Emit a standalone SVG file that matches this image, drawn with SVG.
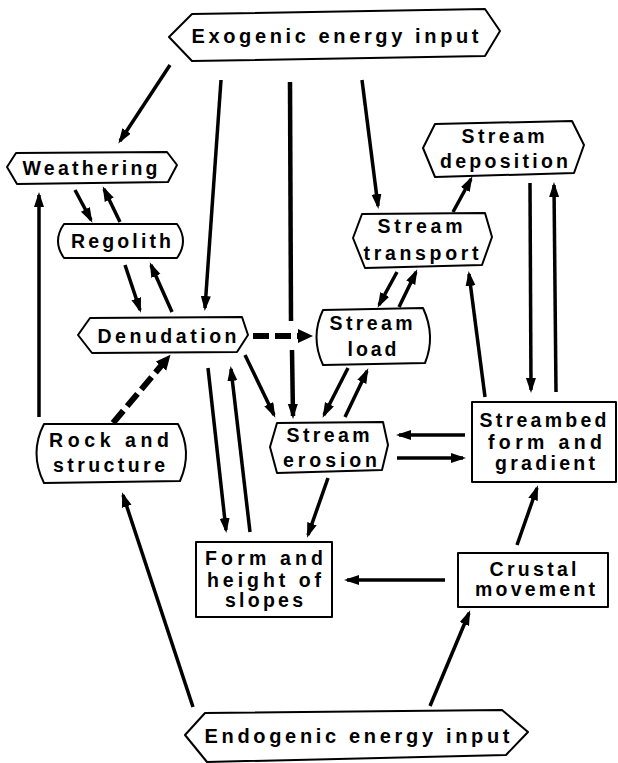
<svg xmlns="http://www.w3.org/2000/svg" width="618" height="763" viewBox="0 0 618 763">
<style>
.n{fill:#fff;stroke:#000;stroke-width:2;stroke-linejoin:round}
.t{font-family:"Liberation Sans",Arial,sans-serif;font-weight:bold;font-size:19.5px;text-anchor:middle;fill:#000}
.big{font-size:20px}
.c line{stroke:#000;stroke-width:3.5;fill:none;marker-end:url(#ah)}
.c line.plain{marker-end:none}
.c line.thick{stroke-width:4.5}
.c line.dash{stroke-width:6;stroke-dasharray:16 6;marker-end:url(#ahd)}
</style>
<defs>
<marker id="ah" markerUnits="userSpaceOnUse" markerWidth="16" markerHeight="12" refX="12" refY="5" orient="auto"><path d="M0,0 L15,5 L0,10 z" fill="#000"/></marker>
<marker id="ahd" markerUnits="userSpaceOnUse" markerWidth="16" markerHeight="16" refX="8" refY="7" orient="auto"><path d="M0,0 L15,7 L0,14 z" fill="#000"/></marker>
</defs>
<rect width="618" height="763" fill="#fff"/>

<g class="c" id="connectors">
<line x1="170" y1="65" x2="120" y2="141"/>
<line x1="221" y1="80" x2="205" y2="308"/>
<line class="plain thick" x1="290" y1="82" x2="291" y2="321"/>
<line class="thick" x1="292" y1="350" x2="293" y2="416"/>
<line x1="362" y1="80" x2="378" y2="206"/>
<line x1="453" y1="212" x2="471" y2="179"/>
<line x1="530" y1="183" x2="531" y2="390"/>
<line x1="556" y1="392" x2="554" y2="185"/>
<line x1="75" y1="190" x2="91" y2="220"/>
<line x1="120" y1="222" x2="104" y2="189"/>
<line x1="39" y1="417" x2="39" y2="195"/>
<line x1="125" y1="265" x2="140" y2="310"/>
<line x1="172" y1="312" x2="151" y2="265"/>
<line class="dash" x1="253" y1="336" x2="306" y2="336"/>
<line x1="397" y1="272" x2="379" y2="305"/>
<line x1="399" y1="307" x2="416" y2="272"/>
<line x1="485" y1="397" x2="469" y2="274"/>
<line class="dash" x1="113" y1="423" x2="166" y2="360"/>
<line x1="208" y1="368" x2="226" y2="530"/>
<line x1="250" y1="532" x2="231" y2="369"/>
<line x1="245" y1="355" x2="274" y2="415"/>
<line x1="348" y1="368" x2="324" y2="415"/>
<line x1="345" y1="417" x2="367" y2="371"/>
<line x1="465" y1="435" x2="399" y2="435"/>
<line x1="397" y1="458" x2="463" y2="458"/>
<line x1="328" y1="478" x2="308" y2="535"/>
<line x1="445" y1="580" x2="347" y2="580"/>
<line x1="517" y1="545" x2="537" y2="488"/>
<line x1="193" y1="707" x2="123" y2="495"/>
<line x1="430" y1="706" x2="469" y2="613"/>
</g>

<g id="exogenic">
<polygon class="n" points="169,37 192,14 485,9 500,31 485,56 192,61"/>
<text class="t big" x="335" y="43" textLength="287" lengthAdjust="spacing">Exogenic energy input</text>
</g>
<g id="weathering">
<polygon class="n" points="7,167 16,153 167,152 177,165 168,182 17,184"/>
<text class="t" x="90" y="175" textLength="135" lengthAdjust="spacing">Weathering</text>
</g>
<g id="regolith">
<path class="n" d="M64,224 L177,224 Q189,241 177,258 L64,258 Q52,241 64,224 Z"/>
<text class="t" x="121" y="248" textLength="100" lengthAdjust="spacing">Regolith</text>
</g>
<g id="denudation">
<polygon class="n" points="78,335 90,318 242,317 248,335 237,352 92,353"/>
<text class="t" x="167" y="343" textLength="139" lengthAdjust="spacing">Denudation</text>
</g>
<g id="stream-deposition">
<polygon class="n" points="423,148 435,124 572,121 584,145 574,173 435,177"/>
<text class="t" x="503" y="143" textLength="83" lengthAdjust="spacing">Stream</text>
<text class="t" x="504" y="168" textLength="128" lengthAdjust="spacing">deposition</text>
</g>
<g id="stream-transport">
<polygon class="n" points="353,238 362,214 485,213 492,237 482,265 365,268"/>
<text class="t" x="420" y="233" textLength="85" lengthAdjust="spacing">Stream</text>
<text class="t" x="421" y="260" textLength="115" lengthAdjust="spacing">transport</text>
</g>
<g id="stream-load">
<path class="n" d="M323,310 L423,308 Q436,336 425,363 L323,365 Q310,337 323,310 Z"/>
<text class="t" x="371" y="330" textLength="83" lengthAdjust="spacing">Stream</text>
<text class="t" x="372" y="356" textLength="49" lengthAdjust="spacing">load</text>
</g>
<g id="rock-and-structure">
<path class="n" d="M44,424 L178,424 Q193,452 180,481 L44,483 Q29,453 44,424 Z"/>
<text class="t" x="109" y="447" textLength="120" lengthAdjust="spacing">Rock and</text>
<text class="t" x="109" y="472" textLength="112" lengthAdjust="spacing">structure</text>
</g>
<g id="stream-erosion">
<polygon class="n" points="270,447 277,423 383,422 388,445 382,470 277,473"/>
<text class="t" x="328" y="442" textLength="83" lengthAdjust="spacing">Stream</text>
<text class="t" x="330" y="467" textLength="94" lengthAdjust="spacing">erosion</text>
</g>
<g id="streambed">
<rect class="n" x="472" y="402" width="144" height="80"/>
<text class="t" x="543" y="427" textLength="127" lengthAdjust="spacing">Streambed</text>
<text class="t" x="545" y="449" textLength="114" lengthAdjust="spacing">form and</text>
<text class="t" x="545" y="470" textLength="100" lengthAdjust="spacing">gradient</text>
</g>
<g id="form-and-height">
<rect class="n" x="196" y="542" width="136" height="75"/>
<text class="t" x="264" y="565" textLength="118" lengthAdjust="spacing">Form and</text>
<text class="t" x="264" y="587" textLength="114" lengthAdjust="spacing">height of</text>
<text class="t" x="264" y="607" textLength="78" lengthAdjust="spacing">slopes</text>
</g>
<g id="crustal-movement">
<rect class="n" x="458" y="553" width="150" height="54"/>
<text class="t" x="533" y="576" textLength="87" lengthAdjust="spacing">Crustal</text>
<text class="t" x="535" y="596" textLength="120" lengthAdjust="spacing">movement</text>
</g>
<g id="endogenic">
<polygon class="n" points="185,735 205,713 502,710 528,732 506,755 207,762"/>
<text class="t big" x="357" y="743" textLength="305" lengthAdjust="spacing">Endogenic energy input</text>
</g>
</svg>
